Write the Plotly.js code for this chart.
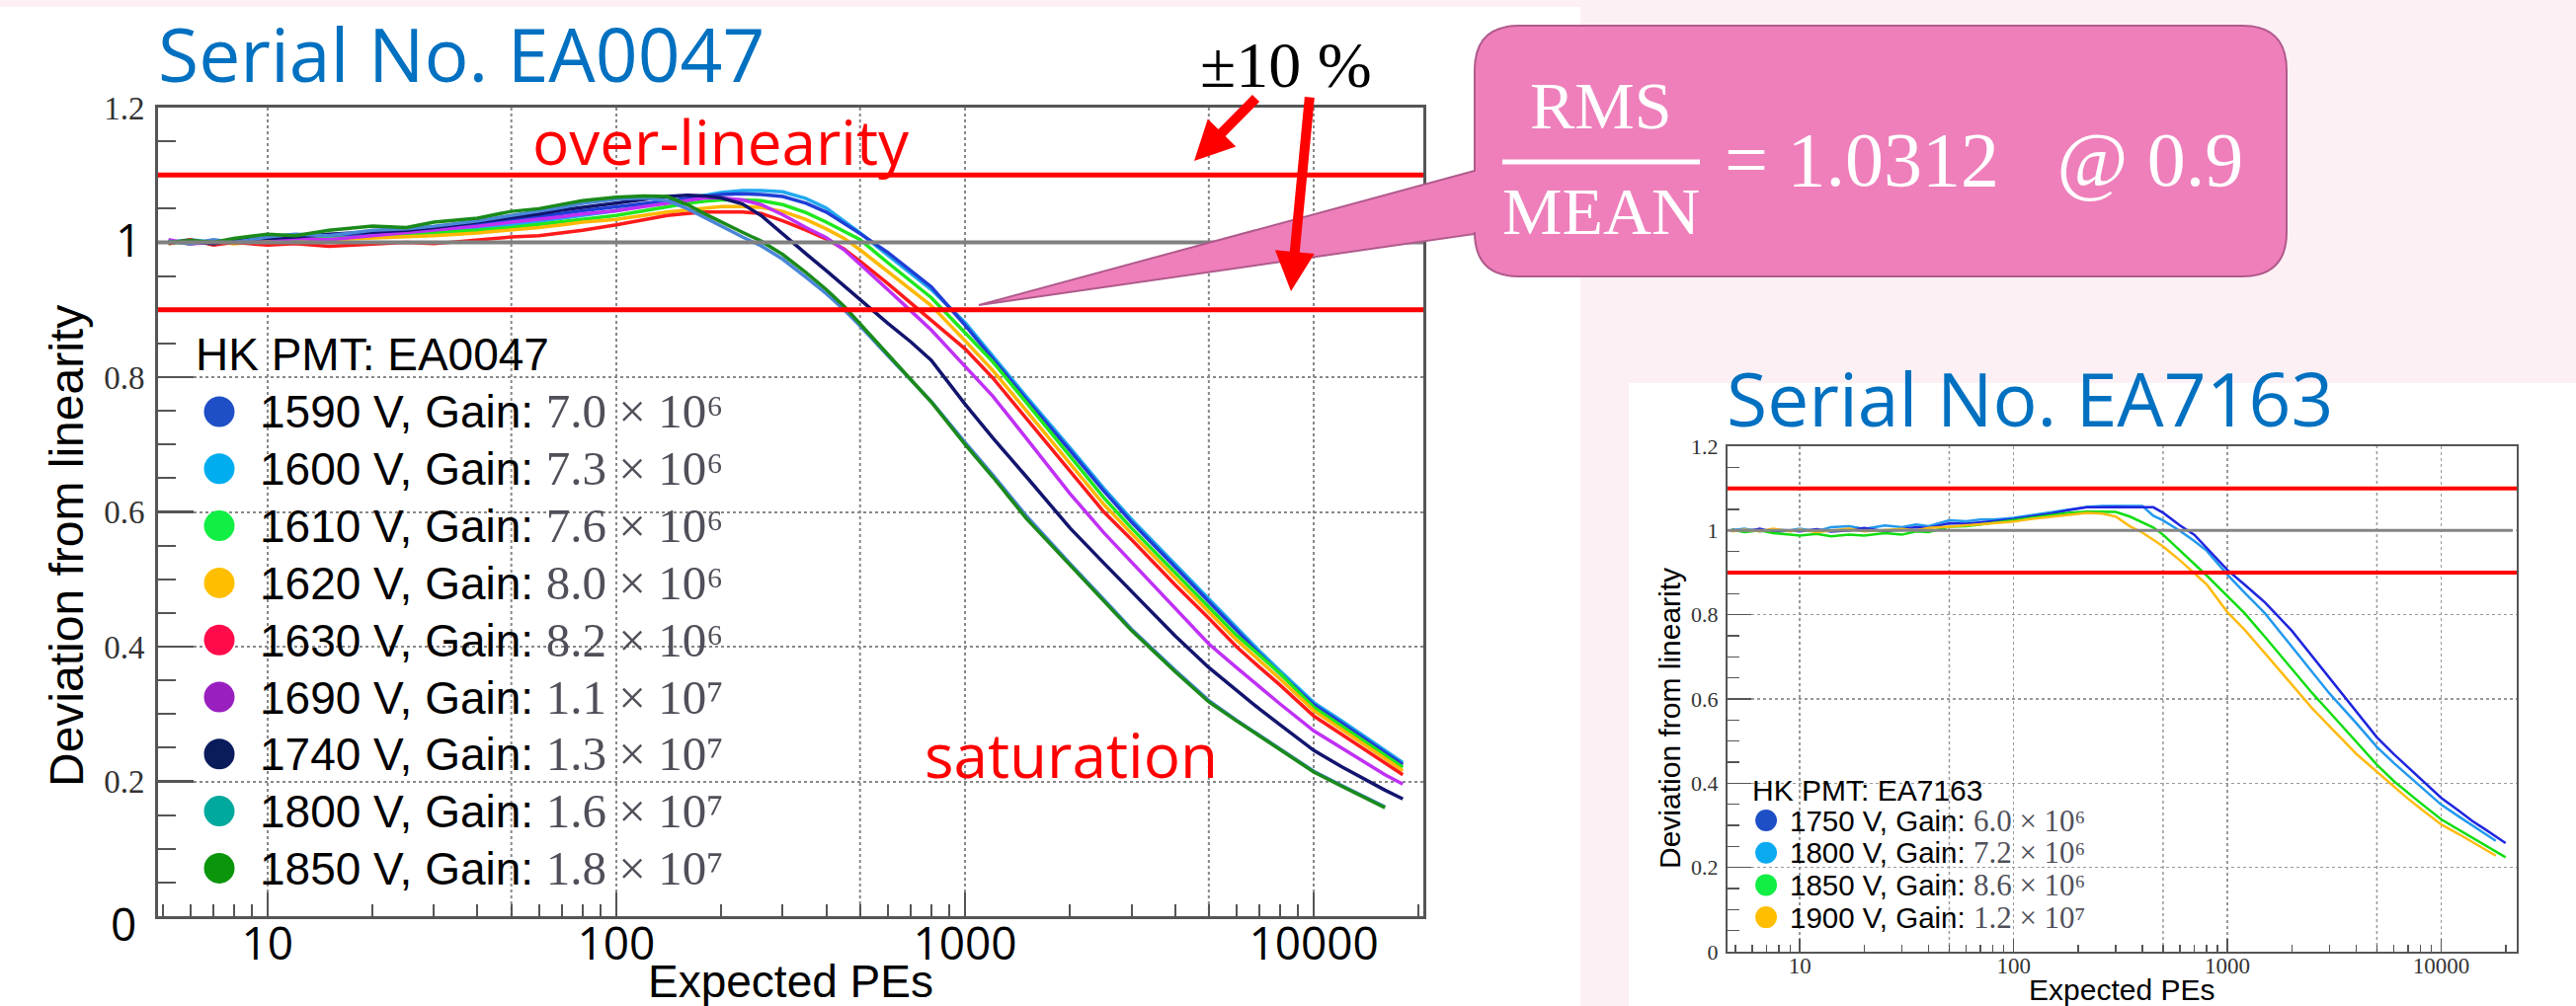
<!DOCTYPE html>
<html><head><meta charset="utf-8">
<script src="https://cdn.plot.ly/plotly-3.0.1.min.js"></script>
<style>html,body{margin:0;padding:0;background:#fdf0f5;overflow:hidden}#chart{width:2608px;height:1019px}</style>
</head><body><div id="chart"></div>
<script>
// ---------------- DATA: Serial No. EA0047 ----------------
const peLeft = [5.2, 6, 7, 8, 10, 12, 15, 20, 25, 30, 40, 50, 60, 70, 80, 100, 120, 140, 160, 180, 200, 230, 260, 300, 350, 400, 450, 500, 600, 700, 800, 1000, 1200, 1500, 2000, 2500, 3000, 4000, 5000, 6000, 7000, 8000, 10000, 12000, 14000, 16000, 18000];
const leftVoltages = [1590, 1600, 1610, 1620, 1630, 1690, 1740, 1800, 1850];
const leftGainMant = ['7.0', '7.3', '7.6', '8.0', '8.2', '1.1', '1.3', '1.6', '1.8'];
const leftGainExp = [6, 6, 6, 6, 6, 7, 7, 7, 7];
const dev1590 = [1.002,0.998,1.003,1.000,1.005,1.008,1.010,1.014,1.017,1.020,1.027,1.033,1.038,1.043,1.047,1.053,1.058,1.062,1.066,1.069,1.071,1.072,1.071,1.068,1.058,1.045,1.028,1.013,0.985,0.958,0.934,0.877,0.827,0.767,0.691,0.631,0.585,0.518,0.466,0.424,0.389,0.360,0.314,0.287,0.264,0.243,0.225];
const dev1600 = [1.000,1.004,1.000,1.002,1.004,1.002,1.008,1.010,1.014,1.016,1.021,1.026,1.031,1.036,1.040,1.047,1.054,1.060,1.066,1.071,1.074,1.077,1.077,1.075,1.065,1.051,1.031,1.014,0.981,0.954,0.930,0.881,0.831,0.771,0.695,0.635,0.589,0.522,0.470,0.428,0.393,0.364,0.317,0.290,0.267,0.246,0.228];
const dev1610 = [0.998,1.002,0.998,1.003,1.000,1.004,1.006,1.008,1.012,1.014,1.018,1.022,1.027,1.031,1.035,1.040,1.047,1.053,1.058,1.061,1.063,1.063,1.062,1.056,1.044,1.030,1.016,1.004,0.970,0.942,0.918,0.866,0.823,0.762,0.683,0.621,0.576,0.510,0.459,0.417,0.387,0.360,0.310,0.283,0.260,0.239,0.221];
const dev1620 = [1.002,0.998,1.002,0.998,1.002,1.000,1.004,1.006,1.008,1.010,1.014,1.018,1.022,1.026,1.030,1.034,1.040,1.045,1.048,1.051,1.053,1.053,1.052,1.046,1.034,1.020,1.006,0.989,0.957,0.930,0.906,0.854,0.810,0.750,0.671,0.611,0.568,0.502,0.451,0.410,0.379,0.352,0.305,0.278,0.255,0.234,0.216];
const dev1630 = [0.998,1.004,0.996,1.000,0.996,0.998,0.994,0.998,1.000,0.998,1.004,1.008,1.010,1.014,1.018,1.026,1.034,1.040,1.043,1.045,1.045,1.045,1.043,1.032,1.018,1.005,0.990,0.972,0.939,0.910,0.885,0.842,0.799,0.739,0.661,0.600,0.559,0.492,0.442,0.400,0.369,0.343,0.297,0.270,0.247,0.227,0.210];
const dev1690 = [1.004,0.998,1.000,1.002,1.000,1.006,1.004,1.010,1.014,1.018,1.024,1.030,1.034,1.038,1.042,1.047,1.053,1.058,1.063,1.066,1.066,1.063,1.056,1.041,1.022,1.007,0.989,0.968,0.930,0.898,0.870,0.816,0.772,0.709,0.627,0.569,0.526,0.457,0.404,0.369,0.340,0.315,0.275,0.250,0.229,0.210,0.196];
const dev1740 = [1.000,1.002,0.998,1.004,1.006,1.008,1.012,1.016,1.018,1.022,1.030,1.036,1.042,1.048,1.052,1.058,1.064,1.068,1.070,1.069,1.066,1.057,1.040,1.012,0.983,0.958,0.935,0.915,0.880,0.852,0.825,0.760,0.710,0.652,0.576,0.524,0.482,0.416,0.369,0.335,0.307,0.284,0.246,0.222,0.203,0.187,0.174];
const dev1800 = [1.002,0.998,1.004,1.000,1.008,1.012,1.010,1.018,1.020,1.024,1.032,1.040,1.046,1.052,1.058,1.064,1.066,1.062,1.050,1.036,1.024,1.008,0.995,0.975,0.948,0.924,0.900,0.876,0.832,0.796,0.764,0.703,0.655,0.594,0.523,0.470,0.426,0.365,0.320,0.291,0.268,0.248,0.215,0.194,0.177,0.162,null];
const dev1850 = [1.000,1.003,1.000,1.006,1.012,1.010,1.018,1.024,1.022,1.030,1.036,1.046,1.050,1.057,1.062,1.067,1.069,1.068,1.056,1.042,1.030,1.015,1.002,0.982,0.955,0.930,0.905,0.879,0.834,0.796,0.763,0.700,0.652,0.590,0.521,0.468,0.424,0.363,0.318,0.290,0.267,0.247,0.214,0.193,0.176,0.161,null];
const leftSeries = [dev1590, dev1600, dev1610, dev1620, dev1630, dev1690, dev1740, dev1800, dev1850];

// ---------------- DATA: Serial No. EA7163 ----------------
const peRight = [4.8, 5.5, 6.5, 7.5, 9, 10, 12, 14, 17, 20, 25, 30, 35, 40, 50, 60, 70, 80, 100, 120, 150, 180, 220, 260, 300, 350, 400, 450, 500, 600, 700, 800, 1000, 1200, 1500, 2000, 2500, 3000, 4000, 5000, 6000, 7000, 8000, 10000, 12000, 14000, 16000, 18000, 20000];
const rightVoltages = [1750, 1800, 1850, 1900];
const rightGainMant = ['6.0', '7.2', '8.6', '1.2'];
const rightGainExp = [6, 6, 6, 7];
const r1750 = [1.002,0.998,1.004,0.996,1.000,0.998,1.003,0.997,1.000,1.006,0.998,1.004,1.008,1.006,1.017,1.016,1.020,1.022,1.027,1.033,1.040,1.048,1.055,1.055,1.056,1.055,1.055,1.055,1.042,1.012,0.990,0.958,0.906,0.872,0.829,0.762,0.700,0.649,0.569,0.509,0.469,0.437,0.410,0.365,0.336,0.310,0.291,0.273,0.258];
const r1800 = [1.000,1.004,0.998,1.002,1.000,1.004,0.998,1.008,1.010,1.004,1.012,1.008,1.014,1.010,1.024,1.022,1.026,1.026,1.030,1.036,1.044,1.050,1.056,1.058,1.058,1.058,1.058,1.035,1.024,0.999,0.975,0.952,0.895,0.853,0.803,0.724,0.663,0.613,0.543,0.486,0.448,0.418,0.393,0.349,0.322,0.300,0.280,0.263,null];
const r1850 = [1.002,0.996,1.000,0.994,0.990,0.988,0.992,0.986,0.990,0.988,0.994,0.990,0.998,0.996,1.009,1.010,1.014,1.018,1.025,1.030,1.036,1.042,1.045,1.045,1.044,1.033,1.020,1.007,0.990,0.952,0.920,0.893,0.844,0.804,0.747,0.672,0.613,0.569,0.498,0.444,0.405,0.376,0.353,0.314,0.290,0.270,0.252,0.237,0.224];
const r1900 = [0.998,1.002,0.998,1.004,0.998,1.002,0.996,1.000,1.004,0.998,1.002,1.004,1.000,1.006,1.009,1.012,1.014,1.017,1.021,1.027,1.033,1.038,1.042,1.040,1.033,1.010,0.995,0.978,0.962,0.929,0.898,0.872,0.806,0.765,0.708,0.635,0.577,0.535,0.470,0.427,0.392,0.363,0.340,0.302,0.280,0.260,0.243,0.228,null];
const rightSeries = [r1750, r1800, r1850, r1900];

// reference levels and ticks
const limitLevels = [1.1, 0.9];
const unityLevel = [1.0];
const gridFives = [50, 500, 5000];
const xTickVals = [10, 100, 1000, 10000];
const xTickText = ['10', '100', '1000', '10000'];
const yTickVals = [0, 0.2, 0.4, 0.6, 0.8, 1.0, 1.2];
const yTickText = ['0', '0.2', '0.4', '0.6', '0.8', '1', '1.2'];

// ---------------- STYLE ----------------
const leftLineColors = ['#1f3fd6', '#22a8f0', '#1fe81f', '#ffb800', '#ff1a1a', '#c030f5', '#12146e', '#4a86d8', '#1a8a1a'];
const leftMarkerColors = ['#1f4fc6', '#00aeef', '#11ee44', '#ffbf00', '#ff0a4a', '#9a1fbf', '#0a1c5c', '#00a99d', '#0b950b'];
const leftDrawOrder = [1, 0, 2, 3, 4, 5, 6, 7, 8];
const rightLineColors = ['#1f26dd', '#2299ee', '#11dd11', '#ffbb11'];
const rightMarkerColors = ['#1f4fc6', '#0aaaf0', '#11ee44', '#ffbf00'];

const W = 2608, H = 1019;
const X = p => p / W;
const Y = p => 1 - p / H;
const SUP = {6: '\u2076', 7: '\u2077'};

function minorLogTicks(lo, hi) {
  const v = [];
  for (let d = 1; d <= 100000; d *= 10) for (let k = 2; k <= 9; k++) { const t = k * d; if (t >= lo && t <= hi && !(d === 1 && k < 5)) v.push(t); }
  return v;
}

const traces = [];
leftDrawOrder.forEach(i => {
  traces.push({type: 'scatter', mode: 'lines', x: peLeft, y: leftSeries[i], xaxis: 'x', yaxis: 'y',
    line: {color: leftLineColors[i], width: 3.5}, showlegend: false, hoverinfo: 'skip', name: leftVoltages[i] + ' V'});
});
[1, 0, 2, 3].forEach(i => {
  traces.push({type: 'scatter', mode: 'lines', x: peRight, y: rightSeries[i], xaxis: 'x2', yaxis: 'y2',
    line: {color: rightLineColors[i], width: 2.5}, showlegend: false, hoverinfo: 'skip', name: rightVoltages[i] + ' V'});
});

const shapes = [
  {type: 'rect', xref: 'paper', yref: 'paper', x0: 0, x1: X(1600), y0: 0, y1: Y(7), fillcolor: '#ffffff', line: {width: 0}, layer: 'below'},
  {type: 'rect', xref: 'paper', yref: 'paper', x0: X(1649), x1: 1, y0: 0, y1: Y(388), fillcolor: '#ffffff', line: {width: 0}, layer: 'below'},
];
gridFives.forEach(v => {
  shapes.push({type: 'line', xref: 'x', yref: 'y domain', x0: v, x1: v, y0: 0, y1: 1, line: {color: '#888', width: 2, dash: 'dot'}, layer: 'below'});
  shapes.push({type: 'line', xref: 'x2', yref: 'y2 domain', x0: v, x1: v, y0: 0, y1: 1, line: {color: '#999', width: 1.5, dash: 'dot'}, layer: 'below'});
});
unityLevel.forEach(v => {
  shapes.push({type: 'line', xref: 'x domain', yref: 'y', x0: 0, x1: 1, y0: v, y1: v, line: {color: '#808080', width: 4}});
  shapes.push({type: 'line', xref: 'x2 domain', yref: 'y2', x0: 0, x1: 0.995, y0: v, y1: v, line: {color: '#858585', width: 3}});
});
limitLevels.forEach(v => {
  shapes.push({type: 'line', xref: 'x domain', yref: 'y', x0: 0, x1: 1, y0: v, y1: v, line: {color: '#ff0000', width: 5}});
  shapes.push({type: 'line', xref: 'x2 domain', yref: 'y2', x0: 0, x1: 1, y0: v, y1: v, line: {color: '#ff0000', width: 4}});
});
(function () {
  const L = 1493, T = 26, R = 2315, B = 280, r = 45;
  const P = (x, y) => `${X(x)},${Y(y)}`;
  const path = `M ${P(L + r, T)} L ${P(R - r, T)} Q ${P(R, T)} ${P(R, T + r)} L ${P(R, B - r)} Q ${P(R, B)} ${P(R - r, B)} ` +
    `L ${P(L + r, B)} Q ${P(L, B)} ${P(L, B - r)} L ${P(L, 237)} L ${P(991, 309)} L ${P(L, 173)} L ${P(L, T + r)} Q ${P(L, T)} ${P(L + r, T)} Z`;
  shapes.push({type: 'path', xref: 'paper', yref: 'paper', path: path, fillcolor: '#ee7fbb', line: {color: '#b05a8c', width: 2}});
  shapes.push({type: 'line', xref: 'paper', yref: 'paper', x0: X(1521), x1: X(1721), y0: Y(164), y1: Y(164), line: {color: '#ffffff', width: 5}});
})();
leftVoltages.forEach((v, i) => {
  const cx = 222, cy = 417 + i * 57.8, rr = 15.5;
  shapes.push({type: 'circle', xref: 'paper', yref: 'paper', x0: X(cx - rr), x1: X(cx + rr), y0: Y(cy + rr), y1: Y(cy - rr), fillcolor: leftMarkerColors[i], line: {width: 0}});
});
rightVoltages.forEach((v, i) => {
  const cx = 1788, cy = 831 + i * 32.7, rr = 11;
  shapes.push({type: 'circle', xref: 'paper', yref: 'paper', x0: X(cx - rr), x1: X(cx + rr), y0: Y(cy + rr), y1: Y(cy - rr), fillcolor: rightMarkerColors[i], line: {width: 0}});
});

const A = (o) => Object.assign({xref: 'paper', yref: 'paper', showarrow: false, xanchor: 'left', yanchor: 'middle'}, o);
const annotations = [
  A({x: X(158), y: Y(54), text: 'Serial No. EA0047', font: {family: 'Open Sans', size: 75, color: '#0070c0'}}),
  A({x: X(1746), y: Y(403), text: 'Serial No. EA7163', font: {family: 'Open Sans', size: 75, color: '#0070c0'}}),
  A({x: X(537), y: Y(143), text: 'over-linearity', font: {family: 'Open Sans', size: 62, color: '#ff0000'}}),
  A({x: X(934), y: Y(764), text: 'saturation', font: {family: 'Open Sans', size: 62, color: '#ff0000'}}),
  A({x: X(1213), y: Y(65), text: '±10 %', font: {family: 'Liberation Serif', size: 66, color: '#000'}}),
  A({x: X(1621), y: Y(107), xanchor: 'center', text: 'RMS', font: {family: 'Liberation Serif', size: 68, color: '#fff'}}),
  A({x: X(1621), y: Y(214), xanchor: 'center', text: 'MEAN', font: {family: 'Liberation Serif', size: 68, color: '#fff'}}),
  A({x: X(1744), y: Y(161), text: '= 1.0312\u00a0\u00a0\u00a0@\u00a00.9', font: {family: 'Liberation Serif', size: 78, color: '#fff'}}),
  {xref: 'paper', yref: 'paper', x: X(1209), y: Y(163), ax: 64, ay: -65, text: '', showarrow: true, arrowhead: 2, arrowsize: 0.8, arrowwidth: 10, arrowcolor: '#ff0000', standoff: 0},
  {xref: 'paper', yref: 'paper', x: X(1307), y: Y(295), ax: 19, ay: -198, text: '', showarrow: true, arrowhead: 2, arrowsize: 0.8, arrowwidth: 10, arrowcolor: '#ff0000', standoff: 0},
  // overlaid large y tick labels of the left chart
  A({x: X(145), y: Y(242), xanchor: 'right', text: yTickText[5], font: {family: 'Open Sans', size: 46, color: '#000'}}),
  A({x: X(140), y: Y(935), xanchor: 'right', text: yTickText[0], font: {family: 'Open Sans', size: 46, color: '#000'}}),
  // axis titles
  A({x: X(800), y: Y(994), xanchor: 'center', text: 'Expected PEs', font: {family: 'Liberation Sans', size: 46, color: '#000'}}),
  A({x: X(67), y: Y(553), xanchor: 'center', textangle: -90, text: 'Deviation from linearity', font: {family: 'Liberation Sans', size: 48, color: '#000'}}),
  A({x: X(2148), y: Y(1002), xanchor: 'center', text: 'Expected PEs', font: {family: 'Liberation Sans', size: 30, color: '#000'}}),
  A({x: X(1690), y: Y(728), xanchor: 'center', textangle: -90, text: 'Deviation from linearity', font: {family: 'Liberation Sans', size: 30, color: '#000'}}),
  // legend headers
  A({x: X(196), y: Y(359), text: 'HK PMT: EA0047', font: {family: 'Liberation Sans', size: 46, color: '#000'}}),
  A({x: X(1772), y: Y(800), text: 'HK PMT: EA7163', font: {family: 'Liberation Sans', size: 30, color: '#000'}}),
];
leftVoltages.forEach((v, i) => {
  annotations.push(A({x: X(261), y: Y(417 + i * 57.8),
    text: `${v} V, Gain: <span style="font-family:Liberation Serif;font-size:49px;color:#50505a">${leftGainMant[i]} × 10${SUP[leftGainExp[i]]}</span>`,
    font: {family: 'Liberation Sans', size: 46, color: '#000'}}));
});
rightVoltages.forEach((v, i) => {
  annotations.push(A({x: X(1810), y: Y(831 + i * 32.7),
    text: `${v} V, Gain: <span style="font-family:Liberation Serif;font-size:31px;color:#50505a">${rightGainMant[i]} × 10${SUP[rightGainExp[i]]}</span>`,
    font: {family: 'Liberation Sans', size: 29.5, color: '#000'}}));
});

const axCommon = {showline: true, mirror: true, zeroline: false, ticks: 'inside', showgrid: true, griddash: 'dot', fixedrange: true};
const layout = {
  width: W, height: H, margin: {l: 0, r: 0, t: 0, b: 0, pad: 0},
  paper_bgcolor: '#fdf0f5', plot_bgcolor: '#ffffff', hovermode: false, showlegend: false,
  xaxis: Object.assign({}, axCommon, {domain: [X(160), X(1441)], anchor: 'y', type: 'log', range: [0.686, 4.314],
    linecolor: '#555', linewidth: 3, tickcolor: '#555', tickwidth: 2.5, ticklen: 24, gridcolor: '#888', gridwidth: 2,
    tickmode: 'array', tickvals: xTickVals, ticktext: xTickText, tickfont: {family: 'Open Sans', size: 46, color: '#000'}, ticklabelstandoff: -14,
    minor: {tickmode: 'array', tickvals: minorLogTicks(4.85, 20600), ticklen: 12, tickwidth: 2, tickcolor: '#555', ticks: 'inside', showgrid: false}}),
  yaxis: Object.assign({}, axCommon, {domain: [Y(928), Y(109)], anchor: 'x', range: [0, 1.2],
    linecolor: '#555', linewidth: 3, tickcolor: '#555', tickwidth: 2.5, ticklen: 36, gridcolor: '#888', gridwidth: 2,
    tickmode: 'array', tickvals: yTickVals, ticktext: yTickText.map(t => (t === '0' || t === '1') ? '' : t),
    tickfont: {family: 'Liberation Serif', size: 33, color: '#333'}, ticklabelstandoff: 4,
    minor: {tickmode: 'linear', tick0: 0, dtick: 0.05, ticklen: 18, tickwidth: 2, tickcolor: '#555', ticks: 'inside', showgrid: false}}),
  xaxis2: Object.assign({}, axCommon, {domain: [X(1749), X(2548)], anchor: 'y2', type: 'log', range: [0.662, 4.353],
    linecolor: '#555', linewidth: 2, tickcolor: '#555', tickwidth: 1.5, ticklen: 13, gridcolor: '#999', gridwidth: 1.5,
    tickmode: 'array', tickvals: xTickVals, ticktext: xTickText, tickfont: {family: 'Liberation Serif', size: 23, color: '#333'}, ticklabelstandoff: -8,
    minor: {tickmode: 'array', tickvals: minorLogTicks(4.6, 22500), ticklen: 7, tickwidth: 1.5, tickcolor: '#555', ticks: 'inside', showgrid: false}}),
  yaxis2: Object.assign({}, axCommon, {domain: [Y(964), Y(452)], anchor: 'x2', range: [0, 1.2],
    linecolor: '#555', linewidth: 2, tickcolor: '#555', tickwidth: 1.5, ticklen: 24, gridcolor: '#999', gridwidth: 1.5,
    tickmode: 'array', tickvals: yTickVals, ticktext: yTickText, tickfont: {family: 'Liberation Serif', size: 22, color: '#333'}, ticklabelstandoff: 3,
    minor: {tickmode: 'linear', tick0: 0, dtick: 0.05, ticklen: 12, tickwidth: 1.5, tickcolor: '#555', ticks: 'inside', showgrid: false}}),
  shapes: shapes,
  annotations: annotations
};

Plotly.newPlot('chart', traces, layout, {staticPlot: true, displayModeBar: false});
</script></body></html>
